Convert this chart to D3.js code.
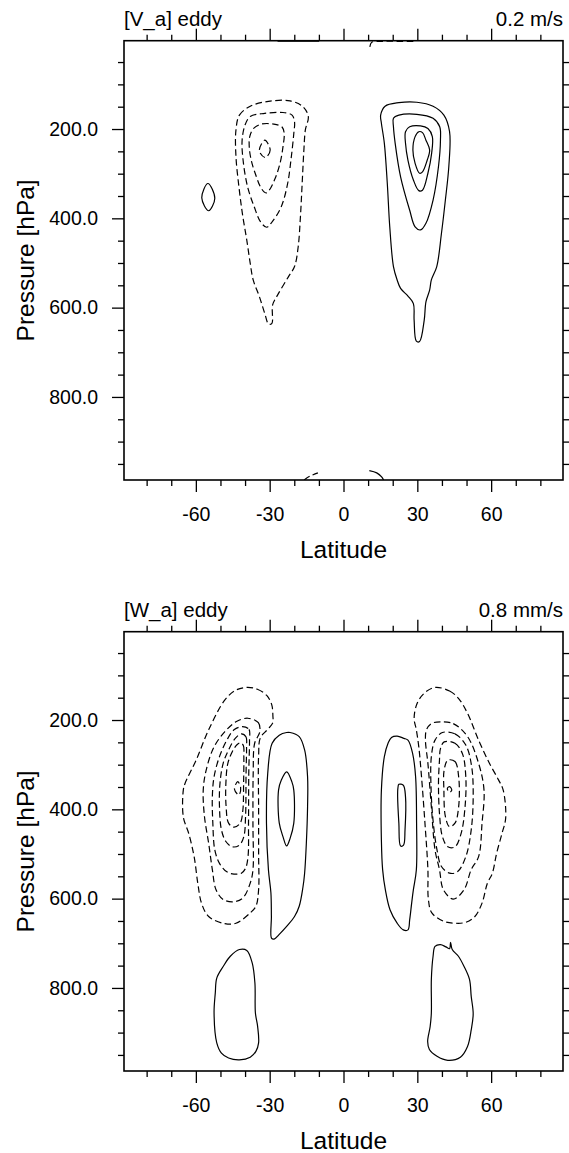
<!DOCTYPE html>
<html>
<head>
<meta charset="utf-8">
<script src="https://cdn.jsdelivr.net/npm/d3@7"></script>
<style>
  body { margin: 0; background: #fff; }
  text { font-family: "Liberation Sans", Arial, Helvetica, sans-serif; fill: #000; }
</style>
</head>
<body>
<svg width="569" height="1153"></svg>
<script>
// axis ticks
var latMajor = [-60, -30, 0, 30, 60];
var latMinor = [-80, -70, -50, -40, -20, -10, 10, 20, 40, 50, 70, 80];
var presMajor = [200, 400, 600, 800];
var presMinor = [50, 100, 150, 250, 300, 350, 450, 500, 550, 650, 700, 750, 850, 900, 950];
var latRange = [-89.2, 89.2];
var presRange = [2.2, 986];

// ---- [V_a] eddy contours, points are [latitude, hPa] ----
// negative values (dashed)
var vaNeg1 = [[-43.7,202],[-42.3,169],[-37.9,149],[-30.5,138],[-21.7,137],[-16.5,150],[-14.3,172],[-15.5,202],[-16.1,247],[-16.8,322],[-17.5,396],[-18.4,463],[-19.9,508],[-22.4,531],[-26.8,572],[-28.8,594],[-29.1,635],[-30.4,637],[-32.0,613],[-34.2,575],[-36.7,538],[-37.9,501],[-39.3,449],[-41.1,389],[-42.5,329],[-43.7,262]];
var vaNeg2 = [[-40.0,191],[-37.9,172],[-32.0,165],[-24.6,163],[-20.9,169],[-19.9,184],[-20.2,210],[-21.2,262],[-22.7,322],[-25.3,374],[-29.0,408],[-31.2,420],[-33.7,408],[-36.3,374],[-39.0,329],[-40.8,270],[-41.2,225]];
var vaNeg3 = [[-38.1,217],[-36.6,199],[-33.4,189],[-28.3,189],[-24.9,196],[-24.1,210],[-24.6,240],[-25.8,277],[-27.8,311],[-30.2,337],[-31.5,343],[-33.4,333],[-35.9,299],[-37.5,270],[-38.3,240]];
var vaNeg4 = [[-32.0,225],[-29.8,247],[-31.7,264],[-34.2,249]];
// positive values (solid)
var vaPos1 = [[15.1,169],[16.9,149],[22.5,141],[29.8,140],[36.4,149],[40.8,169],[43.1,206],[42.8,284],[41.4,359],[39.8,434],[37.9,508],[35.7,538],[35.0,561],[33.5,587],[32.8,628],[30.9,676],[29.6,675],[28.7,628],[28.4,591],[26.2,574],[23.2,557],[21.8,538],[20.3,508],[18.8,419],[17.8,322],[16.6,232],[15.4,187]];
var vaPos2 = [[20.3,176],[22.5,169],[29.8,167],[36.4,176],[39.1,195],[39.4,225],[38.6,284],[36.4,359],[33.5,411],[31.3,426],[29.1,419],[26.9,382],[23.2,307],[21.0,232],[20.3,195]];
var vaPos3 = [[25.2,206],[26.9,195],[31.3,193],[34.3,199],[36.1,217],[35.8,255],[34.3,299],[32.1,337],[30.6,338],[28.4,314],[26.2,270],[25.2,232]];
var vaPos4 = [[28.2,247],[29.1,217],[30.6,206],[32.1,208],[33.5,225],[35.0,247],[34.0,270],[32.1,296],[30.9,299],[29.1,277]];
var vaPos5 = [[-55.1,322],[-52.3,355],[-54.8,383],[-57.6,354]];
// open pieces along the frame
var vaPosOpen = [[[-26.8,3.4],[-18,3.4],[-9.9,3.4]], [[10.5,965],[13.5,970],[15.5,979],[16.3,986]]];
var vaNegOpen = [[[10.7,16],[11.4,6],[13.5,4],[28.4,4]], [[-16.0,986],[-13.5,977],[-10.4,970]]];

// ---- [W_a] eddy contours ----
var waNegS1 = [[-39.3,127],[-35,131],[-31.2,145],[-29.2,165],[-28.7,190],[-28.8,207],[-31,222],[-33.8,240],[-34.5,280],[-34.5,400],[-34.5,500],[-34.5,580],[-35.6,617],[-37.9,632],[-43.7,655],[-48.2,656],[-54.8,640],[-57.7,610],[-59.2,566],[-60.7,506],[-62.9,454],[-65.1,417],[-65.1,357],[-64.4,342],[-59.9,290],[-54.8,222],[-48.2,155],[-43.7,133]];
var waNegS2 = [[-38.9,196],[-34.6,206],[-34.0,226],[-36.1,252],[-36.7,320],[-36.8,431],[-36.8,536],[-37.9,565],[-40.8,598],[-44.5,607],[-48.9,602],[-51.8,580],[-53.3,535],[-54.8,476],[-56.5,416],[-57,357],[-55.8,312],[-52.6,260],[-48.2,226],[-43.7,204]];
var waNegS3 = [[-41.1,215],[-38.4,221],[-38.2,245],[-38.5,320],[-38.6,431],[-38.8,506],[-39.8,532],[-41.5,543],[-44.5,545],[-47.4,540],[-50.4,521],[-52.3,491],[-53.1,431],[-53.3,372],[-52.6,327],[-50.4,282],[-47.4,245],[-44.5,222]];
var waNegS4 = [[-41.5,231],[-39.6,238],[-39.4,260],[-39.6,320],[-39.8,416],[-40.5,461],[-42.3,480],[-45.2,484],[-47.8,472],[-49.6,446],[-50.4,394],[-50.2,342],[-48.9,297],[-46.7,267],[-44.0,241]];
var waNegS5 = [[-41.9,251],[-40.7,257],[-40.5,282],[-40.6,342],[-40.9,402],[-42,431],[-44.5,440],[-46.7,431],[-47.7,394],[-47.8,342],[-47,297],[-45.2,271],[-43.4,256]];
var waNegS6 = [[-43,338],[-41.8,351],[-42.5,368],[-44.3,355]];
var waNegN1 = [[37.2,127],[43.1,135],[46.8,152],[50.4,185],[54.9,245],[59.3,297],[63,334],[64.9,357],[65.9,420],[64.4,454],[62.2,499],[60.5,543],[58.5,565],[56.3,610],[53.4,640],[49.7,653],[45.3,655],[40.9,651],[35.9,632],[34.5,602],[34.3,535],[33.1,431],[31.6,320],[30.6,260],[29.6,222],[28.7,196],[29.9,163],[32.8,140]];
var waNegN2 = [[39.4,204],[44.6,208],[50.4,237],[54.9,297],[57.1,357],[56.3,431],[54.9,506],[51.9,535],[49,580],[44.6,601],[40.6,580],[39,535],[37.2,491],[35.7,394],[34.3,297],[33.3,245],[33.7,222],[35.7,208]];
var waNegN3 = [[40.2,228],[45.3,231],[49.7,256],[52.1,305],[52.7,372],[51.9,446],[49.7,506],[46.3,540],[43.1,543],[39.8,528],[38,491],[36.5,431],[35.6,357],[35.7,282],[37.2,245]];
var waNegN4 = [[40.9,249],[45.3,252],[48.3,275],[49.7,327],[49.4,394],[47.8,454],[45.3,484],[42.4,484],[40.2,461],[39,409],[38.6,342],[39,290],[39.4,264]];
var waNegN5 = [[42.4,290],[45.3,293],[46.8,327],[46.8,394],[45.3,431],[43.1,439],[41.4,416],[40.8,357],[40.9,312]];
var waNegN6 = [[42.2,353],[43.1,349],[44,357],[43,362]];
var waPosS1 = [[-21.7,228],[-18,237],[-15.8,267],[-14.6,327],[-14.6,394],[-15.1,476],[-15.8,543],[-16.5,575],[-18,617],[-19.9,640],[-23.1,662],[-26.3,681],[-28,690],[-29.2,689],[-29.3,640],[-29.5,587],[-30.5,536],[-31.3,431],[-30.8,320],[-29,252],[-26.1,234],[-23.1,228]];
var waPosS2 = [[-23.1,316],[-21,338],[-20.2,357],[-20.2,431],[-21.7,465],[-23.1,482],[-24.6,461],[-26.1,431],[-26.4,357],[-25.3,335]];
var waPosN1 = [[21.8,236],[24.5,241],[26.2,245],[28.1,275],[29.3,327],[29.7,431],[29.6,536],[28.4,580],[27.7,610],[26.9,647],[26.2,670],[24.3,670],[21.8,655],[18.9,625],[17,580],[15.9,535],[15.4,469],[15.4,357],[16.6,282],[18.1,252],[19.5,239]];
var waPosN2 = [[22.5,344],[24.3,346],[25.2,372],[25,446],[24.4,480],[23.2,482],[22.5,431],[22,372],[22.1,353]];
var waPosSL = [[-42.3,714],[-39.3,716],[-37.1,744],[-36,789],[-35.8,856],[-34.9,886],[-34.5,923],[-35.6,942],[-37.9,955],[-42.3,961],[-46.7,957],[-49.6,946],[-51.5,923],[-52.6,856],[-52.1,811],[-51.5,778],[-48.9,752],[-46,729]];
var waPosNL = [[37.2,707],[39.4,703],[41.6,708],[43.1,712],[43.5,698],[44.2,714],[46.7,729],[49,752],[51.2,781],[51.9,819],[52.7,858],[51.9,894],[50.4,931],[47.5,955],[42.4,962],[38,953],[34.9,938],[34.2,920],[35.2,887],[35.7,856],[35.7,781],[36.4,729]];

var svg = d3.select('svg');

// frame of each panel
var box = { l: 124, r: 563, t: 40.7, b: 480 };

function drawPanel(offset, id, title, unit, pos, neg, posOpen, negOpen) {
    var g = svg.append('g').attr('transform', 'translate(0,' + offset + ')');

    var x = d3.scaleLinear().domain(latRange).range([box.l, box.r]);
    var y = d3.scaleLinear().domain(presRange).range([box.t, box.b]);

    g.append('clipPath').attr('id', 'clip' + id)
        .append('rect')
        .attr('x', box.l).attr('y', box.t)
        .attr('width', box.r - box.l).attr('height', box.b - box.t);

    var closed = d3.line()
        .x(function(d) { return x(d[0]); })
        .y(function(d) { return y(d[1]); })
        .curve(d3.curveCatmullRomClosed.alpha(0.5));
    var open = d3.line()
        .x(function(d) { return x(d[0]); })
        .y(function(d) { return y(d[1]); })
        .curve(d3.curveCatmullRom.alpha(0.5));

    var cg = g.append('g').attr('clip-path', 'url(#clip' + id + ')')
        .attr('fill', 'none').attr('stroke', '#000').attr('stroke-width', 1.2);

    cg.selectAll('.pos').data(pos).enter().append('path')
        .attr('class', 'pos').attr('d', closed);
    cg.selectAll('.neg').data(neg).enter().append('path')
        .attr('class', 'neg').attr('d', closed)
        .attr('stroke-dasharray', '6.5,3.5');
    cg.selectAll('.posOpen').data(posOpen).enter().append('path')
        .attr('class', 'posOpen').attr('d', open);
    cg.selectAll('.negOpen').data(negOpen).enter().append('path')
        .attr('class', 'negOpen').attr('d', open)
        .attr('stroke-dasharray', '6.5,3.5');

    // ticks
    var fmtLat = function(d) { return String(d); };
    function styleAxis(sel) {
        sel.select('.domain').remove();
        sel.selectAll('line').attr('stroke', '#000').attr('stroke-width', 1.3);
        sel.selectAll('text').style('font-size', '19.5px')
            .style('font-family', '"Liberation Sans", Arial, sans-serif');
    }
    g.append('g').attr('transform', 'translate(0,' + box.b + ')')
        .call(d3.axisBottom(x).tickValues(latMajor).tickSize(12).tickPadding(14.9).tickFormat(fmtLat))
        .call(styleAxis);
    g.append('g').attr('transform', 'translate(0,' + box.b + ')')
        .call(d3.axisBottom(x).tickValues(latMinor).tickSize(6).tickFormat(''))
        .call(styleAxis);
    g.append('g').attr('transform', 'translate(0,' + box.t + ')')
        .call(d3.axisTop(x).tickValues(latMajor).tickSize(12).tickFormat(''))
        .call(styleAxis);
    g.append('g').attr('transform', 'translate(0,' + box.t + ')')
        .call(d3.axisTop(x).tickValues(latMinor).tickSize(6).tickFormat(''))
        .call(styleAxis);
    g.append('g').attr('transform', 'translate(' + box.l + ',0)')
        .call(d3.axisLeft(y).tickValues(presMajor).tickSize(12).tickPadding(14).tickFormat(d3.format('.1f')))
        .call(styleAxis);
    g.append('g').attr('transform', 'translate(' + box.l + ',0)')
        .call(d3.axisLeft(y).tickValues(presMinor).tickSize(6).tickFormat(''))
        .call(styleAxis);
    g.append('g').attr('transform', 'translate(' + box.r + ',0)')
        .call(d3.axisRight(y).tickValues(presMajor).tickSize(12).tickFormat(''))
        .call(styleAxis);
    g.append('g').attr('transform', 'translate(' + box.r + ',0)')
        .call(d3.axisRight(y).tickValues(presMinor).tickSize(6).tickFormat(''))
        .call(styleAxis);

    // frame
    g.append('rect')
        .attr('x', box.l).attr('y', box.t)
        .attr('width', box.r - box.l).attr('height', box.b - box.t)
        .attr('fill', 'none').attr('stroke', '#000').attr('stroke-width', 1.6);

    // titles
    g.append('text').attr('x', box.l).attr('y', 26)
        .style('font-size', '20.5px').text(title);
    g.append('text').attr('x', box.r).attr('y', 26)
        .attr('text-anchor', 'end').style('font-size', '20.5px').text(unit);
    g.append('text').attr('x', (box.l + box.r) / 2).attr('y', 557.7)
        .attr('text-anchor', 'middle').style('font-size', '24.5px').text('Latitude');
    g.append('text')
        .attr('transform', 'translate(33.5,' + (box.t + box.b) / 2 + ') rotate(-90)')
        .attr('text-anchor', 'middle').style('font-size', '24.5px').text('Pressure [hPa]');
}

drawPanel(0, 'va', '[V_a] eddy', '0.2 m/s',
    [vaPos1, vaPos2, vaPos3, vaPos4, vaPos5],
    [vaNeg1, vaNeg2, vaNeg3, vaNeg4],
    vaPosOpen, vaNegOpen);

drawPanel(591, 'wa', '[W_a] eddy', '0.8 mm/s',
    [waPosS1, waPosS2, waPosN1, waPosN2, waPosSL, waPosNL],
    [waNegS1, waNegS2, waNegS3, waNegS4, waNegS5, waNegS6,
     waNegN1, waNegN2, waNegN3, waNegN4, waNegN5, waNegN6],
    [], []);
</script>
</body>
</html>
